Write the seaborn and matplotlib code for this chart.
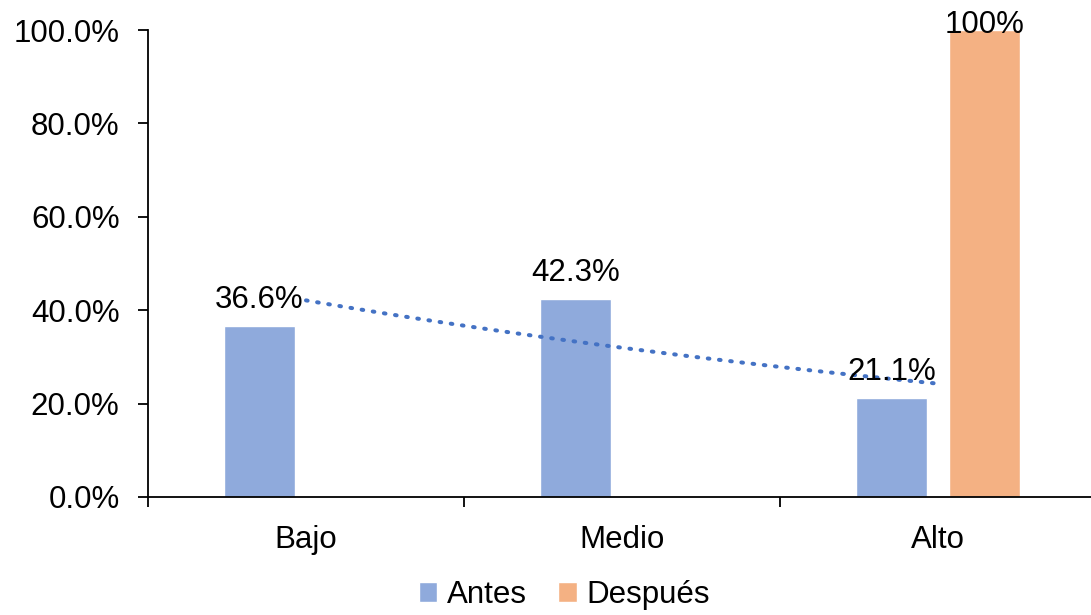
import numpy as np
import pandas as pd
import matplotlib
matplotlib.use("Agg")
import matplotlib.pyplot as plt
from matplotlib.ticker import FixedLocator, PercentFormatter
import seaborn as sns

# Data
categorias = ["Bajo", "Medio", "Alto"]
antes = [0.366, 0.423, 0.211]
despues = [np.nan, np.nan, 1.00]
series = ["Antes", "Después"]
formatos = {"Antes": "{:.1%}", "Después": "{:.0%}"}
colores = {"Antes": "#8FAADC", "Después": "#F4B183"}
color_tendencia = "#4472C4"

df = pd.DataFrame({
    "Nivel": categorias * 2,
    "Momento": ["Antes"] * 3 + ["Después"] * 3,
    "Porcentaje": antes + despues,
}).dropna()

sns.set_theme(style="white")
plt.rcParams["font.family"] = ["Liberation Sans", "DejaVu Sans"]
FS = 22.5

fig = plt.figure(figsize=(10.91, 6.15), dpi=100)
ax = fig.add_axes([148 / 1091, 118 / 615, 948 / 1091, 467 / 615])

sns.barplot(data=df, x="Nivel", y="Porcentaje", hue="Momento",
            order=categorias, hue_order=series, palette=colores,
            width=0.588, gap=0.235, errorbar=None, saturation=1,
            legend=True, ax=ax)

# Exponential trendline for "Antes"
xs = np.arange(len(categorias))
b, a = np.polyfit(xs, np.log(antes), 1)
xf = np.linspace(xs[0], xs[-1], 100)
ax.plot(xf, np.exp(a + b * xf), linestyle=(0, (0.4, 2.4)), linewidth=2.9,
        color=color_tendencia, dash_capstyle="round", zorder=3)

ax.set_xlim(-0.5, len(categorias) - 0.5)
ax.set_ylim(0, 1.0)

# Data labels
for cont, nombre in zip(ax.containers, series):
    for rect in cont:
        h = rect.get_height()
        if not np.isfinite(h) or h <= 0:
            continue
        cx = rect.get_x() + rect.get_width() / 2
        dy = 13 if h < 0.95 else -2.5
        ax.annotate(formatos[nombre].format(h), (cx, h), xytext=(0, dy),
                    textcoords="offset points", ha="center", va="baseline",
                    fontsize=FS, color="black", zorder=5)

# Axes styling
ax.set_xlabel("")
ax.set_ylabel("")
for s in ["top", "right"]:
    ax.spines[s].set_visible(False)
for s in ["left", "bottom"]:
    ax.spines[s].set_color("black")
    ax.spines[s].set_linewidth(1.3)
    ax.spines[s].set_zorder(4)

ax.yaxis.set_major_locator(FixedLocator(np.arange(0, 1.01, 0.2)))
ax.yaxis.set_major_formatter(PercentFormatter(1.0, decimals=1))
ax.tick_params(axis="y", which="major", left=True, length=7.5, width=1.3,
               color="black", pad=13, labelsize=FS, labelcolor="black")
ax.xaxis.set_minor_locator(FixedLocator(np.arange(-0.5, len(categorias), 1.0)))
ax.tick_params(axis="x", which="major", bottom=False, length=0, pad=20,
               labelsize=FS, labelcolor="black")
ax.tick_params(axis="x", which="minor", bottom=True, length=7, width=1.3,
               color="black")

# Legend below the plot
handles, labels = ax.get_legend_handles_labels()
ax.get_legend().remove()
fig.legend(handles, labels, loc="center", bbox_to_anchor=(564 / 1091, 1 - 595 / 615),
           ncol=2, frameon=False, fontsize=FS, labelcolor="black",
           handlelength=0.6, handleheight=0.6, handletextpad=0.3,
           columnspacing=1.0, borderaxespad=0)

fig.savefig("out.png", dpi=100)
